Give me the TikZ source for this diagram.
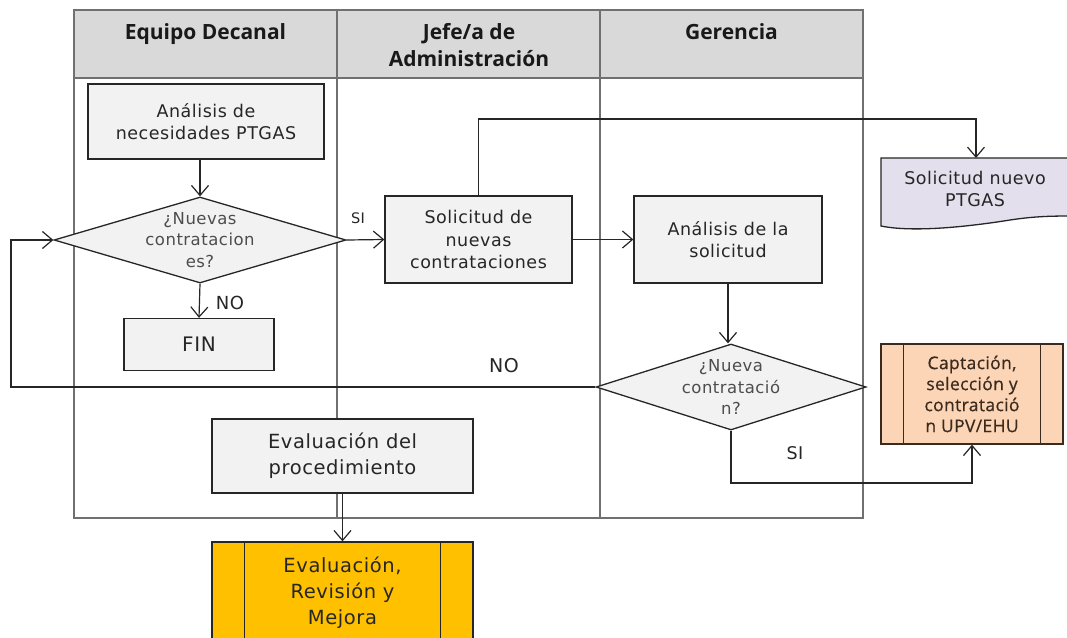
\documentclass[tikz,border=0pt]{standalone}
\usepackage{fontspec}
\setmainfont{DejaVu Sans}[LetterSpace=3]
\newfontfamily\hdrfont{Open Sans}
\newfontfamily\capfont{Open Sans}[LetterSpace=2,FakeBold=0.6]
\usetikzlibrary{shapes.geometric,arrows.meta}
\definecolor{hdrfill}{HTML}{D9D9D9}
\definecolor{lanec}{HTML}{707070}
\definecolor{boxfill}{HTML}{F2F2F2}
\definecolor{docfill}{HTML}{E4DFEC}
\definecolor{capfill}{HTML}{FBD5B5}
\definecolor{ermfill}{HTML}{FFC000}
\definecolor{txt}{HTML}{262626}
\definecolor{dtxt}{HTML}{4D4D4D}
\definecolor{capline}{HTML}{3B2A1E}
\begin{document}
\begin{tikzpicture}[x=1pt,y=-1pt,
  lane/.style={draw=lanec,line width=2pt},
  hdr/.style={anchor=north,inner sep=0pt,align=center,font=\hdrfont\bfseries\fontsize{21}{27}\selectfont,text=black!90},
  box/.style={draw=black!85,line width=1.3pt,fill=boxfill,inner sep=0pt,align=center,text=txt,font=\fontsize{17.5}{22.5}\selectfont},
  bigbox/.style={box,font=\fontsize{19.5}{26}\selectfont},
  dia/.style={diamond,draw=black!85,line width=1.3pt,fill=boxfill,inner sep=0pt},
  dtext/.style={align=center,inner sep=0pt,text=dtxt,font=\fontsize{16.5}{21.5}\selectfont},
  conn/.style={draw=black!85,line width=1.2pt},
  arr/.style={conn,-{Straight Barb[length=10pt,width=17pt,line width=1.2pt]}},
  lbl/.style={inner sep=0pt,text=txt,font=\fontsize{18}{20}\selectfont}]
\useasboundingbox (0,0) rectangle (1067,637);
\fill[white] (0,0) rectangle (1067,637);
% swimlanes
\fill[hdrfill] (74,10) rectangle (863,78);
\draw[lane] (74,10) rectangle (863,518);
\draw[lane] (74,78) -- (863,78);
\draw[lane] (337,10) -- (337,518);
\draw[lane] (600,10) -- (600,518);
\node[hdr] (h1) at (205.5,23.5) {Equipo Decanal};
\node[hdr] (h2) at (469,23.5) {Jefe/a de\\Administración};
\node[hdr] (h3) at (731.5,23.5) {Gerencia};
% nodes
\node[box,minimum width=236pt,minimum height=75pt] (a1) at (206,121.5) {Análisis de\\necesidades PTGAS};
\node[dia,minimum width=292pt,minimum height=86pt] (d1) at (200,240) {};
\node[dtext] (d1t) at (d1.center) {¿Nuevas\\contratacion\\es?};
\node[box,font=\fontsize{20}{24}\selectfont,minimum width=150pt,minimum height=52pt] (fin) at (199,344.5) {FIN};
\node[box,minimum width=187pt,minimum height=87pt] (s1) at (478.5,239.5) {Solicitud de\\nuevas\\contrataciones};
\node[box,minimum width=188pt,minimum height=87pt] (a2) at (728,239.5) {Análisis de la\\solicitud};
\node[dia,minimum width=270pt,minimum height=86pt] (d2) at (731,387) {};
\node[dtext] (d2t) at (d2.center) {¿Nueva\\contratació\\n?};
\node[box,fill=capfill,draw=capline,text=capline,minimum width=182pt,minimum height=100pt,font=\capfont\fontsize{17.5}{21}\selectfont] (cap) at (972,394) {Captación,\\selección y\\contratació\\n UPV/EHU};
\draw[capline,line width=1.3pt] ([xshift=23pt]cap.north west) -- ([xshift=23pt]cap.south west);
\draw[capline,line width=1.3pt] ([xshift=-23pt]cap.north east) -- ([xshift=-23pt]cap.south east);
\node[bigbox,minimum width=261pt,minimum height=74pt] (ev) at (342.5,456) {Evaluación del\\procedimiento};
\node[bigbox,fill=ermfill,minimum width=261pt,minimum height=101pt] (erm) at (342.5,592.5) {Evaluación,\\Revisión y\\Mejora};
\draw[black!85,line width=1.3pt] ([xshift=33pt]erm.north west) -- ([xshift=33pt]erm.south west);
\draw[black!85,line width=1.3pt] ([xshift=-33pt]erm.north east) -- ([xshift=-33pt]erm.south east);
% document shape
\fill[docfill] (881,158) -- (1070,158) -- (1070,216) .. controls (1045,216) and (1030,217) .. (1010,220) .. controls (960,228) and (910,232) .. (881,226) -- cycle;
\draw[black!85,line width=1.3pt] (1070,158) -- (881,158) -- (881,226) .. controls (910,232) and (960,228) .. (1010,220) .. controls (1030,217) and (1045,216) .. (1070,216);
\node[inner sep=0pt,align=center,text=txt,font=\fontsize{17.5}{22.5}\selectfont] (doc) at (975,189) {Solicitud nuevo\\PTGAS};
\coordinate (docin) at (976,158);
% helper coordinates
\coordinate (topy) at (0,119);
\coordinate (lpx) at (11,0);
\coordinate (siy) at (0,483);
% connectors
\draw[arr] (a1.south -| d1.north) -- (d1.north);
\draw[arr] (d1.south) -- (fin.north);
\draw[arr] (d1.east) -- (s1.west);
\draw[arr] (s1.east) -- (a2.west);
\draw[arr] (s1.north) -- (s1.north |- topy) -| (docin);
\draw[arr] (a2.south) -- (a2.south |- d2.north);
\draw[arr] (d2.west) -- (d2.west -| lpx) -- (d1.west -| lpx) -- (d1.west);
\draw[arr] (d2.south) -- (d2.south |- siy) -| (cap.south);
\draw[arr] (ev.south) -- (erm.north);
% labels
\node[lbl] (no1) at (230,303) {NO};
\node[lbl,font=\fontsize{14.5}{16}\selectfont] (si1) at (358,218) {SI};
\node[lbl,font=\fontsize{19}{20}\selectfont] (no2) at (504,366) {NO};
\node[lbl,font=\fontsize{17.5}{20}\selectfont] (si2) at (795,453) {SI};
\end{tikzpicture}
\end{document}
